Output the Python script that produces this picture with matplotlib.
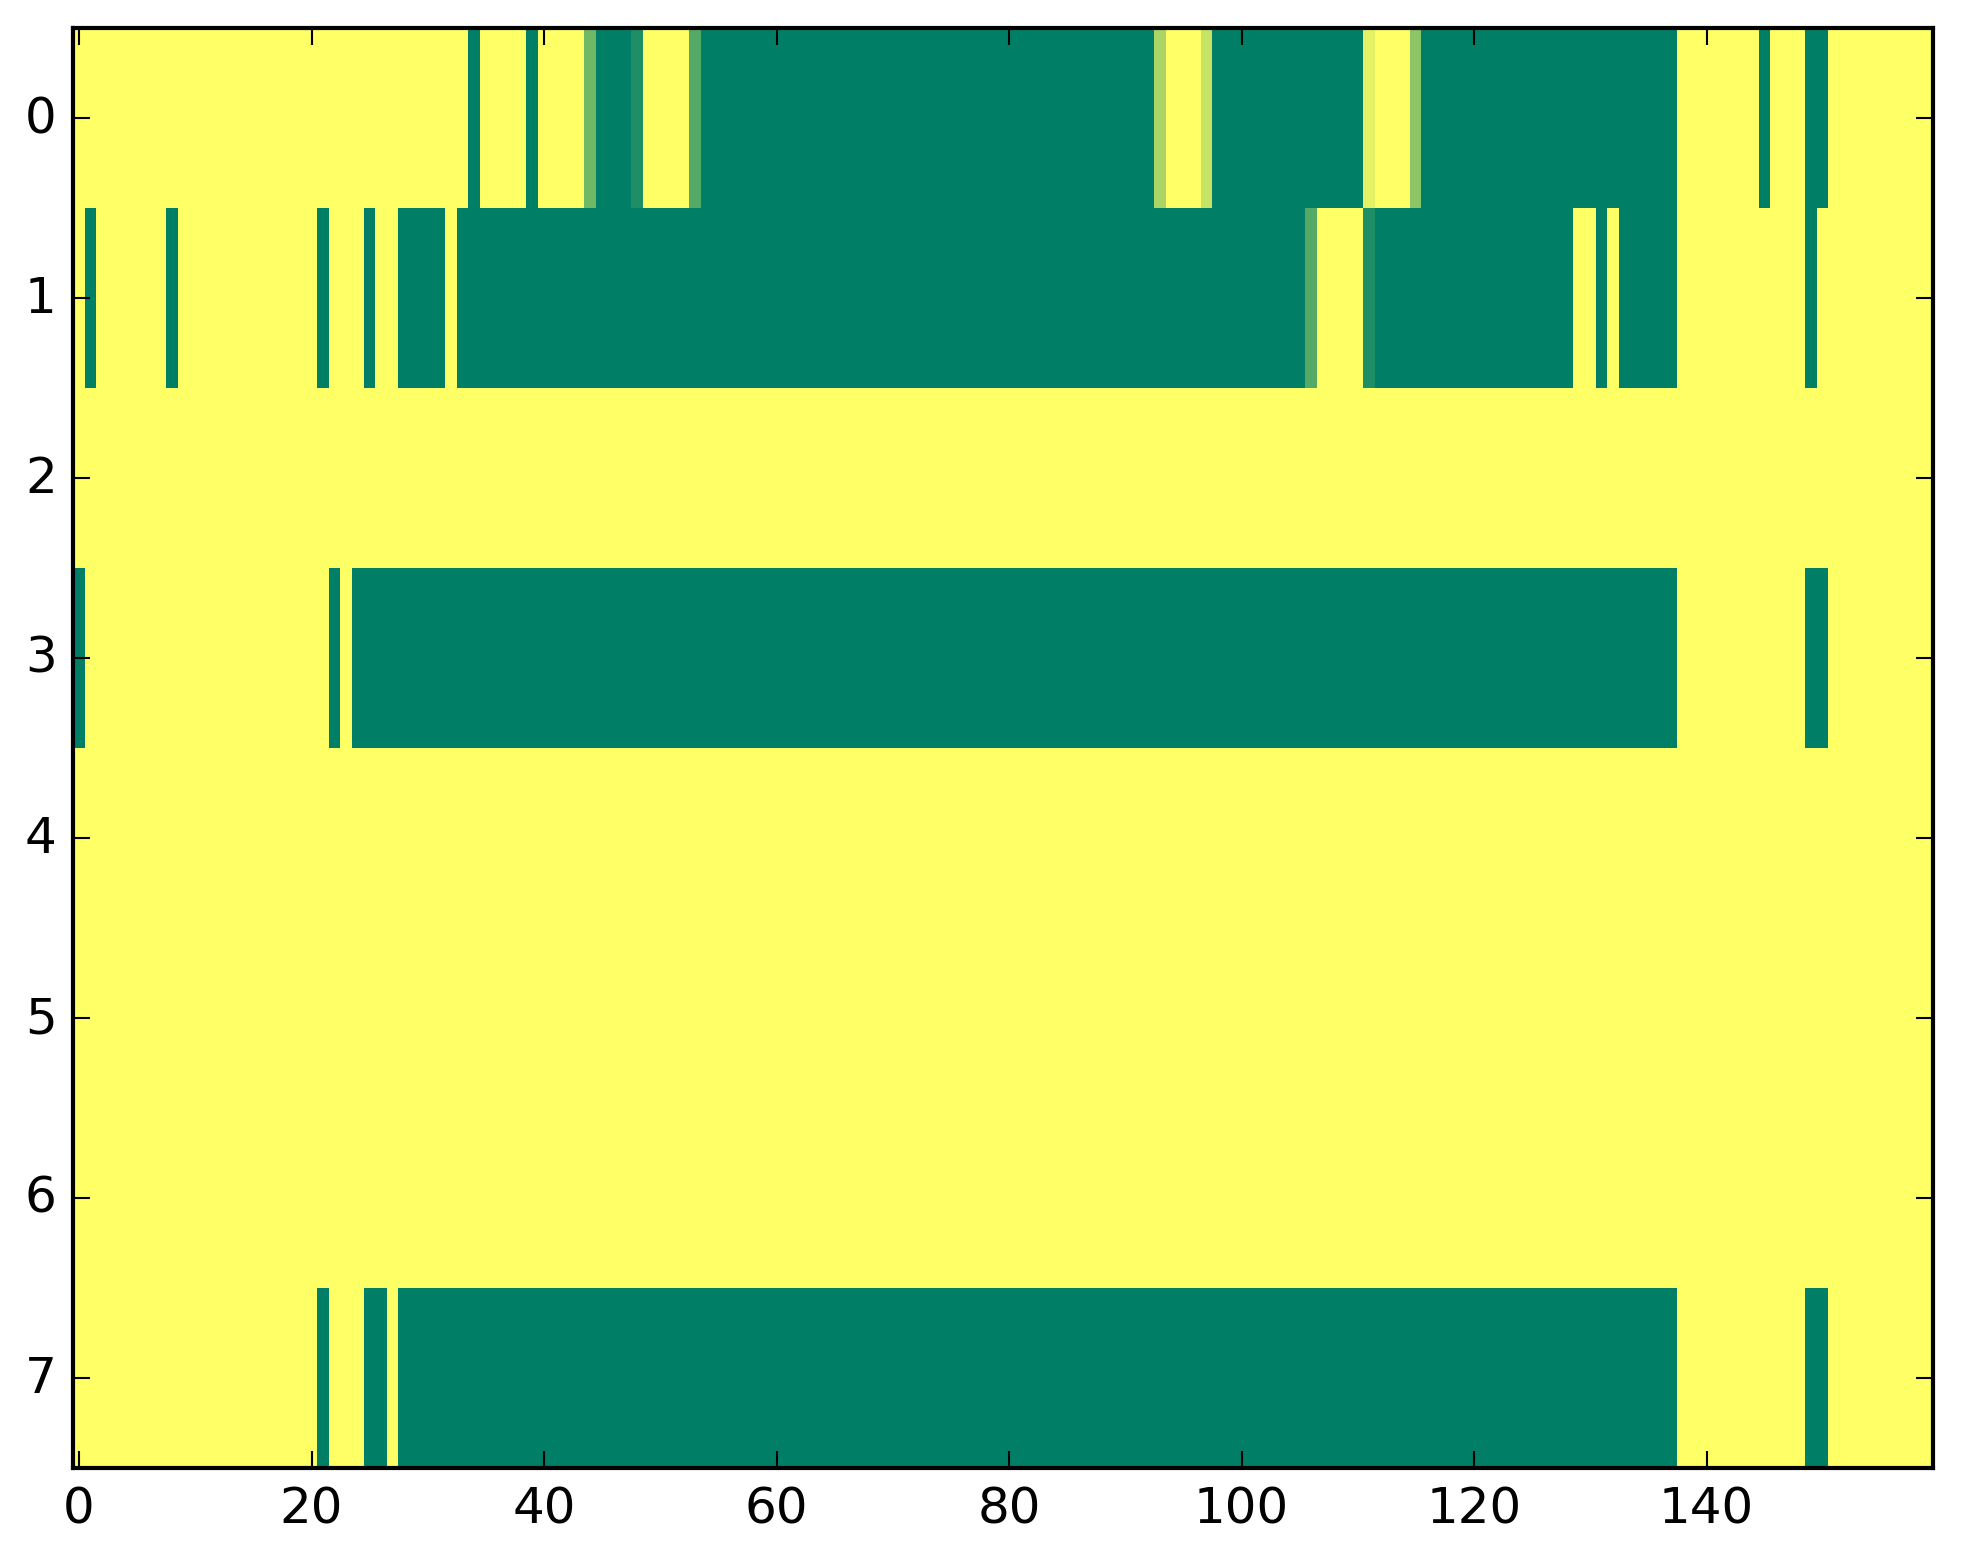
import numpy as np
import matplotlib
matplotlib.use("Agg")
import matplotlib.pyplot as plt

plt.style.use("classic")

# Run-length encoded rows: (value, number of columns)
row0_runs = [(1, 34), (0, 1), (1, 4), (0, 1), (1, 4), (0.44, 1), (0, 3), (0.12, 1),
             (1, 4), (0.33, 1), (0, 39), (0.67, 1), (1, 3), (0.78, 1), (0, 13),
             (0.90, 1), (1, 3), (0.55, 1), (0, 22), (1, 7), (0, 1), (1, 3), (0, 2), (1, 9)]
row1_runs = [(1, 1), (0, 1), (1, 6), (0, 1), (1, 12), (0, 1), (1, 3), (0, 1), (1, 2),
             (0, 4), (1, 1), (0, 73), (0.33, 1), (1, 4), (0.12, 1), (0, 17), (1, 2),
             (0, 1), (1, 1), (0, 5), (1, 11), (0, 1), (1, 10)]
row2_runs = [(1, 160)]
row3_runs = [(0, 1), (1, 21), (0, 1), (1, 1), (0, 114), (1, 11), (0, 2), (1, 9)]
row4_runs = [(1, 160)]
row5_runs = [(1, 160)]
row6_runs = [(1, 160)]
row7_runs = [(1, 21), (0, 1), (1, 3), (0, 2), (1, 1), (0, 110), (1, 11), (0, 2), (1, 9)]

rows = [row0_runs, row1_runs, row2_runs, row3_runs, row4_runs, row5_runs, row6_runs, row7_runs]


def expand(runs):
    vals = [v for v, n in runs]
    counts = [n for v, n in runs]
    return np.repeat(vals, counts)


data = np.array([expand(r) for r in rows])

fig = plt.figure(figsize=(1963 / 300, 1564 / 300), dpi=300)
ax = fig.add_axes([73.3 / 1963, 95 / 1564, 1860 / 1963, 1440 / 1564])
ax.imshow(data, cmap="summer", aspect="auto", interpolation="nearest", vmin=0, vmax=1)
ax.set_xticks([0, 20, 40, 60, 80, 100, 120, 140])
ax.set_yticks(range(8))
fig.savefig("out.png", dpi=300)
